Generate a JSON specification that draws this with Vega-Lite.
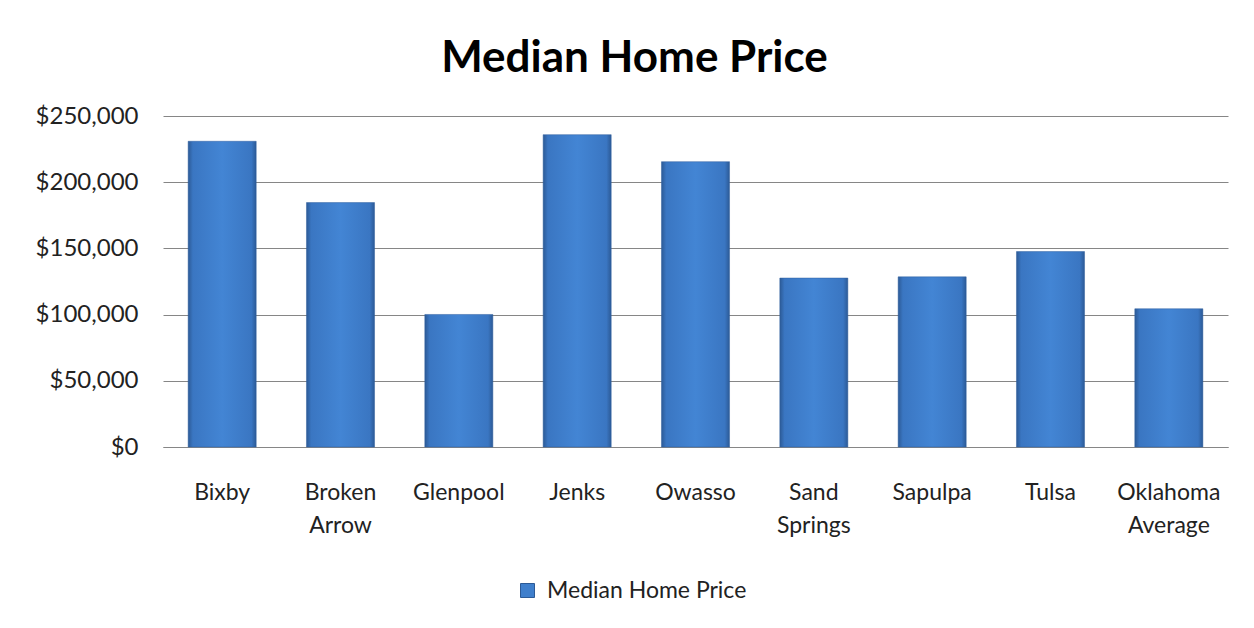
{
  "$schema": "https://vega.github.io/schema/vega-lite/v6.json",
  "width": 1065,
  "height": 331,
  "autosize": {"type": "none"},
  "padding": {"left": 163, "top": 116, "right": 26, "bottom": 181},
  "background": "white",
  "title": {
    "text": "Median Home Price",
    "font": "Lato",
    "fontSize": 44,
    "fontWeight": "bold",
    "color": "#000000",
    "anchor": "middle",
    "dx": -61,
    "offset": 23
  },
  "data": {
    "values": [
      {"city": "Bixby", "price": 230900, "series": "Median Home Price"},
      {"city": "Broken Arrow", "price": 184600, "series": "Median Home Price"},
      {"city": "Glenpool", "price": 100100, "series": "Median Home Price"},
      {"city": "Jenks", "price": 235900, "series": "Median Home Price"},
      {"city": "Owasso", "price": 215500, "series": "Median Home Price"},
      {"city": "Sand Springs", "price": 127600, "series": "Median Home Price"},
      {"city": "Sapulpa", "price": 128500, "series": "Median Home Price"},
      {"city": "Tulsa", "price": 147600, "series": "Median Home Price"},
      {"city": "Oklahoma Average", "price": 104400, "series": "Median Home Price"}
    ]
  },
  "encoding": {
    "x": {
      "field": "city",
      "type": "nominal",
      "sort": null,
      "title": null,
      "scale": {"paddingInner": 0.425, "paddingOuter": 0.2125},
      "axis": {
        "labelAngle": 0,
        "labelExpr": "split(datum.label, ' ')",
        "labelFont": "Lato",
        "labelFontSize": 23,
        "labelColor": "#222222",
        "labelPadding": 34,
        "labelLineHeight": 33,
        "labelBaseline": "top",
        "ticks": false,
        "domainColor": "#868686",
        "domainWidth": 1,
        "grid": false
      }
    },
    "y": {
      "field": "price",
      "type": "quantitative",
      "title": null,
      "scale": {"domain": [0, 250000], "nice": false},
      "axis": {
        "values": [0, 50000, 100000, 150000, 200000, 250000],
        "format": "$,.0f",
        "labelFont": "Lato",
        "labelFontSize": 24,
        "labelColor": "#222222",
        "labelPadding": 25,
        "ticks": false,
        "domain": false,
        "grid": true,
        "gridColor": "#868686",
        "gridWidth": 1
      }
    }
  },
  "layer": [
    {
      "mark": {
        "type": "bar",
        "fill": {
          "gradient": "linear",
          "x1": 0, "x2": 1, "y1": 0, "y2": 0,
          "stops": [
            {"offset": 0, "color": "#2c5a96"},
            {"offset": 0.07, "color": "#3a76c2"},
            {"offset": 0.5, "color": "#4385d4"},
            {"offset": 0.93, "color": "#3a76c2"},
            {"offset": 1, "color": "#2c5a96"}
          ]
        },
        "stroke": "#2f5f9f",
        "strokeWidth": 0.5
      }
    },
    {
      "mark": {"type": "point", "filled": true, "opacity": 0, "size": 1},
      "encoding": {
        "fill": {
          "field": "series",
          "type": "nominal",
          "scale": {"range": ["#3f7fcc"]},
          "legend": {
            "title": null,
            "orient": "none",
            "legendX": 353,
            "legendY": 463,
            "symbolType": "square",
            "symbolSize": 196,
            "symbolOpacity": 1,
            "symbolFillColor": "#3f7fcc",
            "symbolStrokeColor": "#2c5a96",
            "symbolStrokeWidth": 1,
            "labelFont": "Lato",
            "labelFontSize": 23,
            "labelColor": "#222222",
            "labelOffset": 8,
            "labelLimit": 400
          }
        }
      }
    }
  ],
  "config": {"view": {"stroke": null}}
}
